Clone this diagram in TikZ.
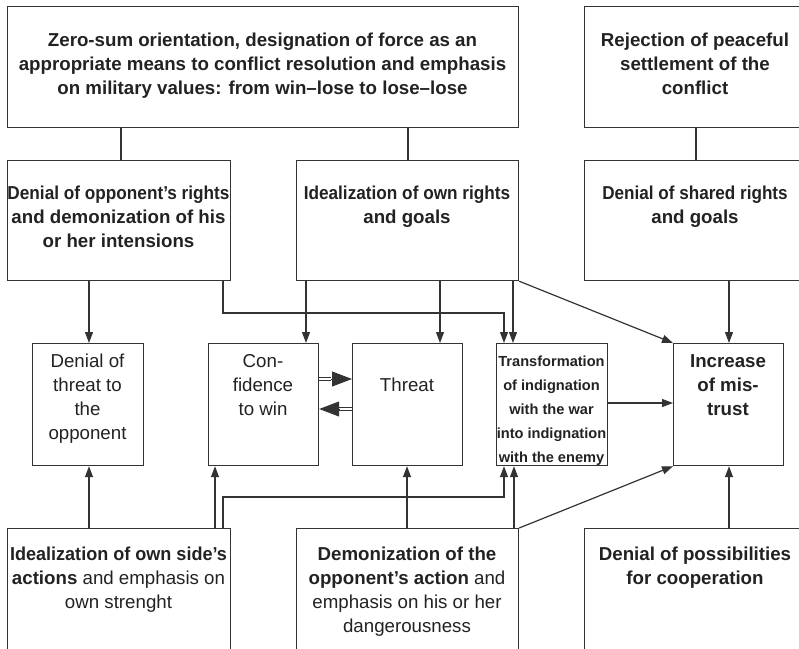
\documentclass[tikz,border=0pt]{standalone}
\usepackage{fontspec}
\setmainfont{Liberation Sans}
\usetikzlibrary{arrows.meta}
\definecolor{linec}{HTML}{333333}
\definecolor{txtc}{HTML}{222222}
\begin{document}
\begin{tikzpicture}[x=1pt,y=-1pt,
  box/.style={draw=linec, line width=1.2pt, inner sep=0pt, anchor=north west, rectangle},
  txt/.style={inner sep=0pt, align=center, anchor=north, text=txtc, font=\fontsize{18.7}{24}\selectfont},
  btxt/.style={txt, font=\fontsize{18.7}{24}\selectfont\bfseries},
  smalltxt/.style={txt, font=\fontsize{14.6}{24}\selectfont\bfseries},
  conn/.style={draw=linec, line width=1.2pt},
  arr/.style={conn, -{Triangle[length=11pt,width=8pt]}},
  dblshaft/.style={draw=linec, line width=0.9pt, double=white, double distance=2pt},
  bigtip/.style={draw=linec, line width=0.9pt, -{Triangle[length=20pt,width=15pt]}}
]
\useasboundingbox (0,0) rectangle (799,648);
\clip (0,0) rectangle (799,648);

% boxes
\node[box, minimum width=511pt, minimum height=121pt] (zs) at (7,6) {};
\node[box, minimum width=223pt, minimum height=121pt] (rej) at (584,6) {};
\node[box, minimum width=223pt, minimum height=120pt] (dor) at (7,160) {};
\node[box, minimum width=222pt, minimum height=120pt] (ior) at (296,160) {};
\node[box, minimum width=223pt, minimum height=120pt] (dsr) at (584,160) {};
\node[box, minimum width=111pt, minimum height=122pt] (dt) at (32,343) {};
\node[box, minimum width=110pt, minimum height=122pt] (cw) at (208,343) {};
\node[box, minimum width=110pt, minimum height=122pt] (th) at (352,343) {};
\node[box, minimum width=111pt, minimum height=122pt] (tr) at (496,343) {};
\node[box, minimum width=110pt, minimum height=122pt] (im) at (673,343) {};
\node[box, minimum width=223pt, minimum height=140pt] (ios) at (7,528) {};
\node[box, minimum width=222pt, minimum height=140pt] (dem) at (296,528) {};
\node[box, minimum width=223pt, minimum height=140pt] (dpc) at (584,528) {};

% texts
\node[btxt] (zst) at (262.5,29.2) {\strut Zero-sum orientation, designation of force as an\\appropriate means to conflict resolution and emphasis\\on military values: from win–lose to lose–lose};
\node[btxt] (rejt) at (695,29.2) {\strut Rejection of peaceful\\settlement of the\\conflict};
\node[btxt] (dort) at (118.5,182.2) {\strut\scalebox{0.92}[1]{Denial of opponent's rights}\\and demonization of his\\or her intensions};
\node[btxt] (iort) at (407,182.2) {\strut\scalebox{0.92}[1]{Idealization of own rights}\\and goals};
\node[btxt] (dsrt) at (695,182.2) {\strut\scalebox{0.915}[1]{Denial of shared rights}\\and goals};
\node[txt] (dtt) at (87.5,350) {\strut Denial of\\threat to\\the\\opponent};
\node[txt] (cwt) at (263,350) {\strut Con-\\fidence\\to win};
\node[txt] (tht) at (407,374) {\strut Threat};
\node[smalltxt] (trt) at (551.5,349) {\strut Transformation\\of indignation\\with the war\\into indignation\\with the enemy};
\node[btxt] (imt) at (728,350) {\strut Increase\\of mis-\\trust};
\node[txt] (iost) at (118.5,543.2) {\strut\scalebox{0.965}[1]{\textbf{Idealization of own side's}}\\\textbf{actions} and emphasis on\\own strenght};
\node[txt] (demt) at (407,543.2) {\strut\textbf{Demonization of the}\\\textbf{opponent's action} and\\emphasis on his or her\\dangerousness};
\node[btxt] (dpct) at (695,543.2) {\strut Denial of possibilities\\for cooperation};

% top connectors (no arrows)
\draw[conn] (zs.south -| 121,0) -- (dor.north -| 121,0);
\draw[conn] (zs.south -| 408,0) -- (ior.north -| 408,0);
\draw[conn] (rej.south -| 696,0) -- (dsr.north -| 696,0);

% arrows from upper row
\draw[arr] (dor.south -| 89,0) -- (dt.north -| 89,0);
\draw[arr] (dor.south -| 223,0) |- (504,313) -- (tr.north -| 504,0);
\draw[arr] (ior.south -| 306,0) -- (cw.north -| 306,0);
\draw[arr] (ior.south -| 440,0) -- (th.north -| 440,0);
\draw[arr] (ior.south -| 513,0) -- (tr.north -| 513,0);
\draw[arr] (ior.south east) -- (im.north west);
\draw[arr] (dsr.south -| 729,0) -- (im.north -| 729,0);

% middle row: double arrows between Confidence and Threat
\coordinate (c1) at (331,379);
\coordinate (c2) at (339,409);
\draw[dblshaft] (cw.east |- c1) -- (c1);
\draw[bigtip] (c1) -- (th.west |- c1);
\draw[dblshaft] (th.west |- c2) -- (c2);
\draw[bigtip] (c2) -- (cw.east |- c2);
\draw[arr] (tr.east |- 0,403) -- (im.west |- 0,403);

% arrows from bottom row
\draw[arr] (ios.north -| 89,0) -- (dt.south -| 89,0);
\draw[arr] (ios.north -| 215,0) -- (cw.south -| 215,0);
\draw[arr] (ios.north -| 223,0) |- (504,497) -- (tr.south -| 504,0);
\draw[arr] (dem.north -| 407,0) -- (th.south -| 407,0);
\draw[arr] (dem.north -| 514,0) -- (tr.south -| 514,0);
\draw[arr] (dem.north east) -- (im.south west);
\draw[arr] (dpc.north -| 729,0) -- (im.south -| 729,0);
\end{tikzpicture}
\end{document}
